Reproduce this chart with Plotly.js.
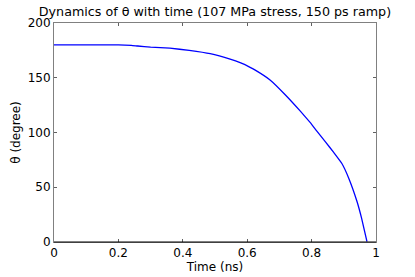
<!DOCTYPE html>
<html>
<head>
<meta charset="utf-8">
<script src="https://cdn.plot.ly/plotly-3.0.1.min.js"></script>
<style>html,body{margin:0;padding:0;background:#fff;}#chart{width:415px;height:277px;}</style>
</head>
<body>
<div id="chart"></div>
<script>
const timeNs = [0, 0.1, 0.2, 0.24, 0.26, 0.3, 0.36, 0.42, 0.485, 0.547, 0.58, 0.609, 0.625, 0.671, 0.718, 0.765, 0.796, 0.817, 0.843, 0.868, 0.894, 0.915, 0.941, 0.955, 0.972];
const thetaDeg = [180, 180, 180, 179.6, 179, 178, 177, 175, 172, 167, 163.5, 159.5, 157, 148, 134.5, 119.5, 109, 101, 91.5, 82, 71.7, 58.5, 37, 22, 0.3];
const xTicks = [0, 0.2, 0.4, 0.6, 0.8, 1];
const xTickText = ['0', '0.2', '0.4', '0.6', '0.8', '1'];
const yTicks = [0, 50, 100, 150, 200];

const fam = 'DejaVu Sans, Verdana, sans-serif';
const font = {family: fam, size: 12, color: '#000'};

Plotly.newPlot('chart', [{
  x: timeNs, y: thetaDeg, type: 'scatter', mode: 'lines',
  line: {color: '#0000ff', width: 1.3, shape: 'spline', smoothing: 0.3}
}], {
  width: 415, height: 277,
  margin: {l: 54, r: 39, t: 23, b: 35},
  paper_bgcolor: '#fff', plot_bgcolor: '#fff',
  font: font,
  showlegend: false,
  title: {text: 'Dynamics of θ with time (107 MPa stress, 150 ps ramp)', font: {family: fam, size: 12.7, color: '#000'}, x: 0.518, xanchor: 'center', y: 0.975, yanchor: 'top'},
  xaxis: {
    range: [0, 1], tickvals: xTicks, ticktext: xTickText,
    showgrid: false, zeroline: false,
    showline: true, linecolor: '#808080', linewidth: 1, mirror: 'ticks',
    ticks: 'inside', ticklen: 3, tickcolor: '#606060',
    tickfont: font,
    title: {text: 'Time (ns)', font: {family: fam, size: 12, color: '#000'}, standoff: 3}
  },
  yaxis: {
    range: [0, 200], tickvals: yTicks,
    showgrid: false, zeroline: false,
    showline: true, linecolor: '#808080', linewidth: 1, mirror: 'ticks',
    ticks: 'inside', ticklen: 3, tickcolor: '#606060',
    tickfont: font,
    title: {text: 'θ (degree)', font: {family: fam, size: 12, color: '#000'}, standoff: 4}
  },
  shapes: [{type: 'line', xref: 'paper', yref: 'paper', x0: 0, x1: 1, y0: 0, y1: 0, line: {color: '#000', width: 1.2}}]
}, {displayModeBar: false, staticPlot: true});
</script>
</body>
</html>
